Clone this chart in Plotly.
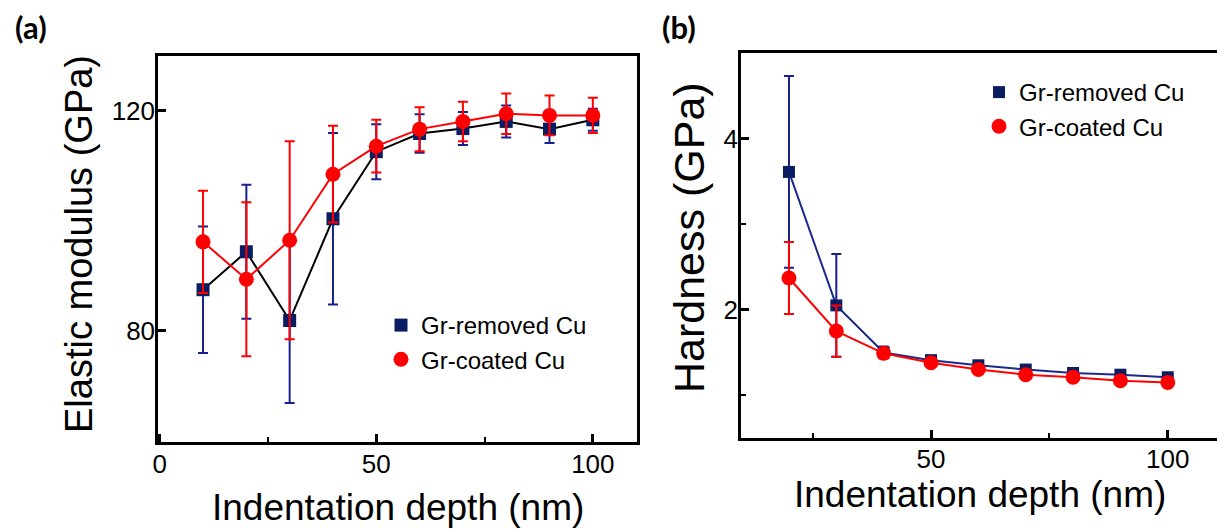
import plotly.graph_objects as go

# ---------------- data ----------------
depth = [10, 20, 30, 40, 50, 60, 70, 80, 90, 100]
mod_removed = [87.5, 94.4, 81.9, 100.4, 112.6, 115.9, 116.8, 118.1, 116.7, 118.4]
mod_removed_err = [11.5, 12.2, 15.0, 15.6, 5.0, 3.5, 3.0, 2.9, 2.5, 2.0]
mod_coated = [96.2, 89.4, 96.5, 108.5, 113.6, 116.7, 118.1, 119.5, 119.2, 119.2]
mod_coated_err = [9.3, 14.0, 18.0, 8.8, 4.8, 4.0, 3.6, 3.7, 3.6, 3.2]

hard_depth = [20, 30, 40, 50, 60, 70, 80, 90, 100]
hard_removed = [3.61, 2.05, 1.50, 1.41, 1.35, 1.30, 1.26, 1.24, 1.21]
hard_removed_err = [1.12, 0.60, 0.07, 0.04, 0.04, 0.04, 0.04, 0.04, 0.04]
hard_coated = [2.37, 1.75, 1.49, 1.38, 1.30, 1.24, 1.21, 1.17, 1.15]
hard_coated_err = [0.42, 0.30, 0.05, 0.04, 0.04, 0.04, 0.04, 0.04, 0.03]

series_names = ["Gr-removed Cu", "Gr-coated Cu"]
x_title = "Indentation depth (nm)"
ya_title = "Elastic modulus (GPa)"
yb_title = "Hardness (GPa)"

NAVY = "#0B1D62"
NAVY_ERR = "#17208F"
NAVY_LINE = "#1A2A8C"
RED = "#FF0000"
FONT = "Liberation Sans"

fig = go.Figure()


def add_series(x, y, err, name, symbol, size, mcolor, ecolor, lcolor, xa, ya, leg):
    # connecting line (not in legend)
    fig.add_trace(go.Scatter(x=x, y=y, mode="lines", line=dict(color=lcolor, width=2),
                             showlegend=False, hoverinfo="skip", xaxis=xa, yaxis=ya))
    # markers with error bars (legend entry)
    fig.add_trace(go.Scatter(x=x, y=y, name=name, mode="markers",
                             marker=dict(symbol=symbol, size=size, color=mcolor),
                             error_y=dict(type="data", array=err, color=ecolor, thickness=2, width=5),
                             xaxis=xa, yaxis=ya, legend=leg))


# ---- panel (a) ----
add_series(depth, mod_removed, mod_removed_err, series_names[0], "square", 13,
           NAVY, NAVY_ERR, "black", "x", "y", "legend")
add_series(depth, mod_coated, mod_coated_err, series_names[1], "circle", 15,
           RED, RED, RED, "x", "y", "legend")
# ---- panel (b) ----
add_series(hard_depth, hard_removed, hard_removed_err, series_names[0], "square", 12,
           NAVY, NAVY_ERR, NAVY_LINE, "x2", "y2", "legend2")
add_series(hard_depth, hard_coated, hard_coated_err, series_names[1], "circle", 15,
           RED, RED, RED, "x2", "y2", "legend2")

axis_common = dict(
    showline=True, linecolor="black", linewidth=2.5,
    ticks="inside", ticklen=8, tickwidth=2.5, tickcolor="black",
    showgrid=False, zeroline=False, automargin=False,
    tickfont=dict(family=FONT, size=26, color="black"),
)
minor_x = dict(tickvals=[25, 75], ticks="inside", ticklen=5, tickwidth=2, tickcolor="black")

W, H = 1217, 530
fig.update_layout(
    width=W, height=H,
    margin=dict(l=0, r=0, t=0, b=0),
    paper_bgcolor="white", plot_bgcolor="white",
    font=dict(family=FONT, color="black"),
    xaxis=dict(domain=[158 / W, 637 / W], range=[-0.4, 110.2], tickvals=[0, 50, 100],
               mirror=True, anchor="y", minor=minor_x, ticklabelstandoff=-3, **axis_common),
    yaxis=dict(domain=[1 - 442 / H, 1 - 56 / H], range=[59.8, 130], tickvals=[80, 120],
               mirror=True, anchor="x", ticklabelstandoff=-5, **axis_common),
    xaxis2=dict(domain=[741 / W, 1.0], range=[9.87, 110.4], tickvals=[50, 100],
                mirror=True, anchor="y2", minor=minor_x, ticklabelstandoff=-4, **axis_common),
    yaxis2=dict(domain=[1 - 438 / H, 1 - 53 / H], range=[0.5, 5.0], tickvals=[2, 4],
                mirror=False, anchor="x2", ticklabelstandoff=-5,
                minor=dict(tickvals=[1, 3], ticks="inside", ticklen=5, tickwidth=2, tickcolor="black"),
                **axis_common),
    legend=dict(x=381 / W, y=1 - 303 / H, xanchor="left", yanchor="top",
                bgcolor="rgba(0,0,0,0)", font=dict(family=FONT, size=24, color="black")),
    legend2=dict(x=979 / W, y=1 - 70 / H, xanchor="left", yanchor="top",
                 bgcolor="rgba(0,0,0,0)", font=dict(family=FONT, size=24, color="black")),
    showlegend=True,
)

annots = [
    dict(text=x_title, x=398 / W, y=1 - 507 / H, font=dict(family=FONT, size=37)),
    dict(text=x_title, x=980 / W, y=1 - 494 / H, font=dict(family=FONT, size=37)),
    dict(text=ya_title, x=79 / W, y=1 - 244 / H, textangle=-90, font=dict(family=FONT, size=38)),
    dict(text=yb_title, x=689 / W, y=1 - 238 / H, textangle=-90, font=dict(family=FONT, size=43)),
    dict(text="<b>(a)</b>", x=31 / W, y=1 - 27 / H, font=dict(family="Lato", size=31)),
    dict(text="<b>(b)</b>", x=679 / W, y=1 - 27 / H, font=dict(family="Lato", size=31)),
]
for a in annots:
    fig.add_annotation(xref="paper", yref="paper", showarrow=False,
                       xanchor="center", yanchor="middle", **a)

fig.write_html("out.html", config={"displayModeBar": False},
               post_script="document.body.style.margin='0';document.body.style.overflow='hidden';")
